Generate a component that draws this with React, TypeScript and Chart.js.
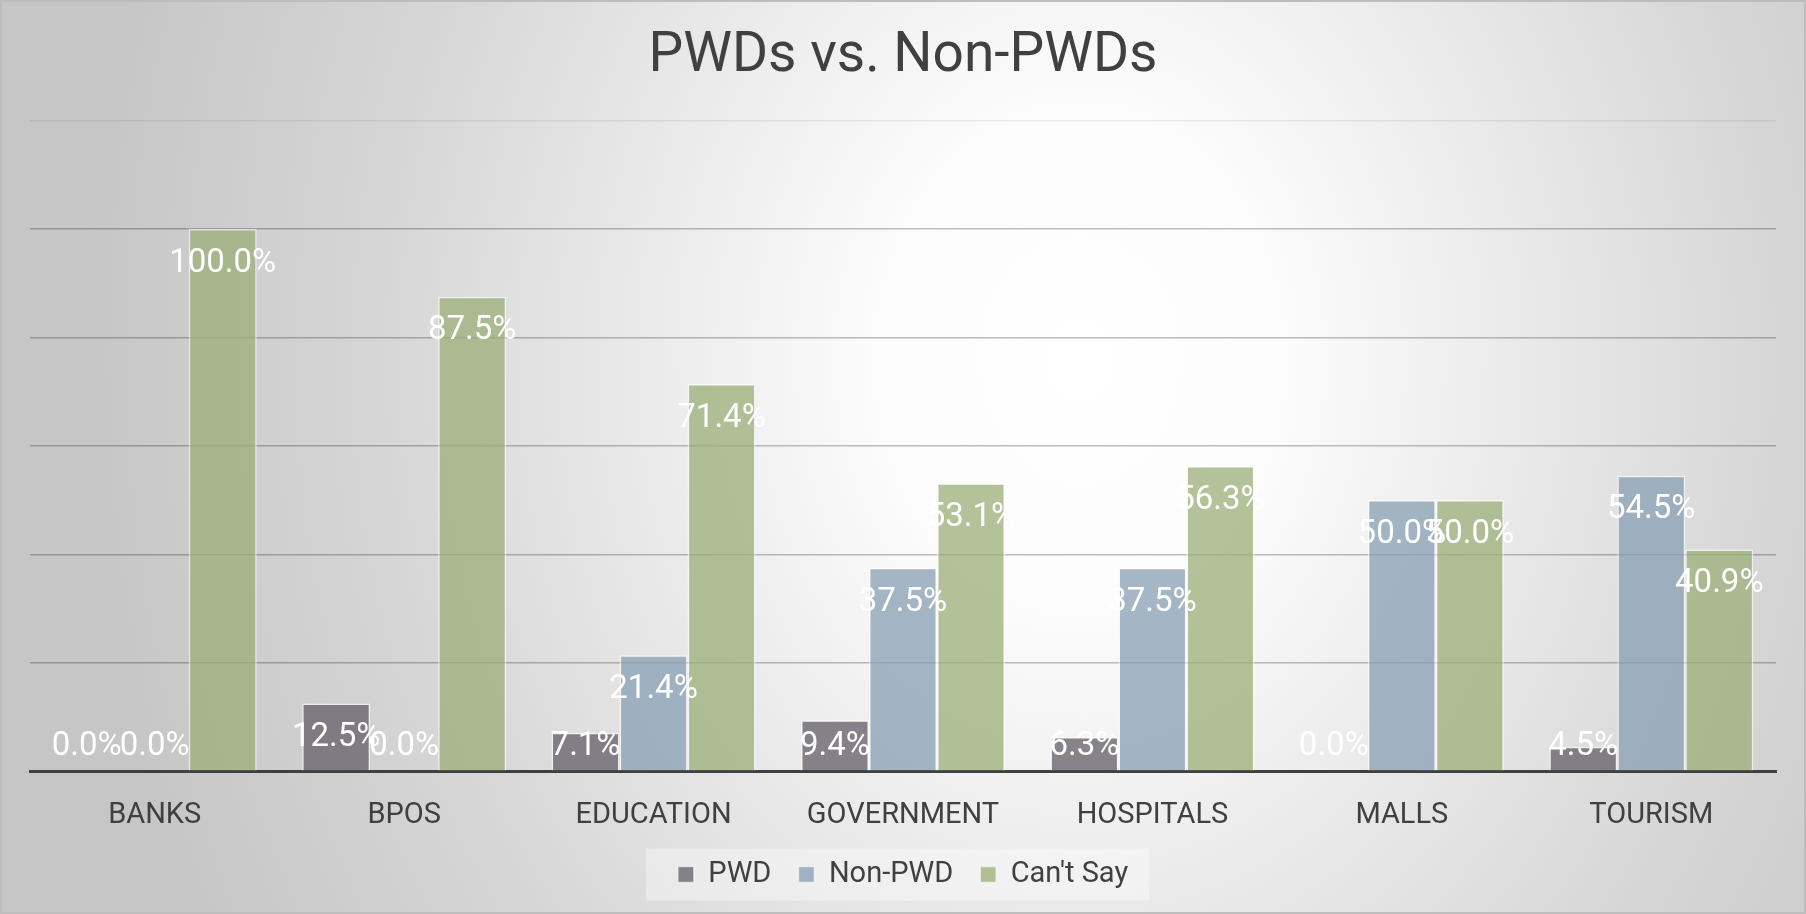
import React, { useEffect, useRef } from 'react';
import { Chart, registerables } from 'chart.js';

Chart.register(...registerables);

const categories = ['BANKS', 'BPOS', 'EDUCATION', 'GOVERNMENT', 'HOSPITALS', 'MALLS', 'TOURISM'];
const seriesNames = ['PWD', 'Non-PWD', "Can't Say"];
const pwdValues = [0, 12.5, 7.1, 9.4, 6.3, 0, 4.5];
const nonPwdValues = [0, 0, 21.4, 37.5, 37.5, 50, 54.5];
const cantSayValues = [100, 87.5, 71.4, 53.1, 56.3, 50, 40.9];
const yMax = 120;
const yStep = 20;

const bgPlugin = {
  id: 'bgPlugin',
  beforeDraw(chart: any) {
    const { ctx, width, height } = chart;
    ctx.save();
    ctx.translate(1080, 360);
    ctx.scale(1, 1.25);
    const g = ctx.createRadialGradient(0, 0, 0, 0, 0, 1000);
    g.addColorStop(0, '#ffffff');
    g.addColorStop(0.2, '#fcfcfc');
    g.addColorStop(0.7, '#d6d6d6');
    g.addColorStop(1, '#c6c6c6');
    ctx.fillStyle = g;
    ctx.fillRect(-3000, -3000, 6000, 6000);
    ctx.restore();

    const lg = chart.legend;
    if (lg && lg.legendHitBoxes && lg.legendHitBoxes.length) {
      const hb = lg.legendHitBoxes;
      const l = Math.min(...hb.map((h: any) => h.left)) - 32;
      const r = Math.max(...hb.map((h: any) => h.left + h.width)) + 21;
      const cy = hb[0].top + hb[0].height / 2;
      ctx.save();
      ctx.fillStyle = 'rgba(255,255,255,0.35)';
      ctx.fillRect(l, cy - 26, r - l, 52);
      ctx.restore();
    }
    ctx.save();
    ctx.strokeStyle = '#bdbdbd';
    ctx.lineWidth = 2;
    ctx.strokeRect(1, 1, width - 2, height - 2);
    ctx.restore();
  },
};

const labelPlugin = {
  id: 'labelPlugin',
  afterDatasetsDraw(chart: any) {
    const { ctx, chartArea } = chart;
    ctx.save();
    ctx.font = '33px Roboto';
    ctx.fillStyle = '#ffffff';
    ctx.textAlign = 'center';
    ctx.textBaseline = 'middle';
    chart.data.datasets.forEach((ds: any, di: number) => {
      const meta = chart.getDatasetMeta(di);
      meta.data.forEach((bar: any, i: number) => {
        const v = ds.data[i];
        const y = Math.min(bar.y + 34.5, chartArea.bottom - 24.5);
        ctx.fillText(v.toFixed(1) + '%', bar.x, y);
      });
    });
    ctx.restore();
  },
};

export default function App() {
  const ref = useRef<HTMLCanvasElement>(null);

  useEffect(() => {
    if (!ref.current) return;
    Chart.defaults.font.family = 'Roboto';
    const border = 'rgba(255,255,255,0.6)';
    const chart = new Chart(ref.current, {
      type: 'bar',
      data: {
        labels: categories,
        datasets: [
          { label: seriesNames[0], data: pwdValues, backgroundColor: 'rgba(103,100,108,0.78)', borderColor: border, borderWidth: 1.5 },
          { label: seriesNames[1], data: nonPwdValues, backgroundColor: 'rgba(137,160,180,0.76)', borderColor: border, borderWidth: 1.5 },
          { label: seriesNames[2], data: cantSayValues, backgroundColor: 'rgba(156,175,122,0.76)', borderColor: border, borderWidth: 1.5 },
        ],
      },
      options: {
        responsive: false,
        animation: false,
        layout: { padding: { left: 30, right: 30, top: 0, bottom: 15 } },
        datasets: { bar: { categoryPercentage: 0.818, barPercentage: 1.0 } } as any,
        plugins: {
          title: {
            display: true,
            text: 'PWDs vs. Non-PWDs',
            color: '#404040',
            font: { family: 'Roboto', size: 55, weight: 'normal' },
            padding: { top: 24.5, bottom: 30 },
          },
          legend: {
            position: 'bottom',
            labels: {
              boxWidth: 16,
              boxHeight: 16,
              color: '#404040',
              font: { family: 'Roboto', size: 29 },
              padding: 27,
            },
          },
          tooltip: { enabled: false },
        },
        scales: {
          x: {
            grid: { display: true, drawOnChartArea: false, drawTicks: true, tickLength: 27, tickColor: 'rgba(0,0,0,0)', color: 'rgba(0,0,0,0)' },
            border: { display: true, color: '#404040', width: 3 },
            ticks: { color: '#404040', font: { family: 'Roboto', size: 29 }, padding: 0, maxRotation: 0 },
          },
          y: {
            min: 0,
            max: yMax,
            ticks: { display: false, stepSize: yStep },
            grid: {
              drawTicks: false,
              lineWidth: 1.5,
              color: (c: any) => (c.tick && c.tick.value === yMax ? 'rgba(0,0,0,0.07)' : 'rgba(0,0,0,0.25)'),
            },
            border: { display: false },
          },
        },
      },
      plugins: [bgPlugin, labelPlugin],
    });
    return () => chart.destroy();
  }, []);

  return (
    <div style={{ position: 'fixed', left: 0, top: 0, width: 1806, height: 914 }}>
      <canvas ref={ref} width={1806} height={914} />
    </div>
  );
}
